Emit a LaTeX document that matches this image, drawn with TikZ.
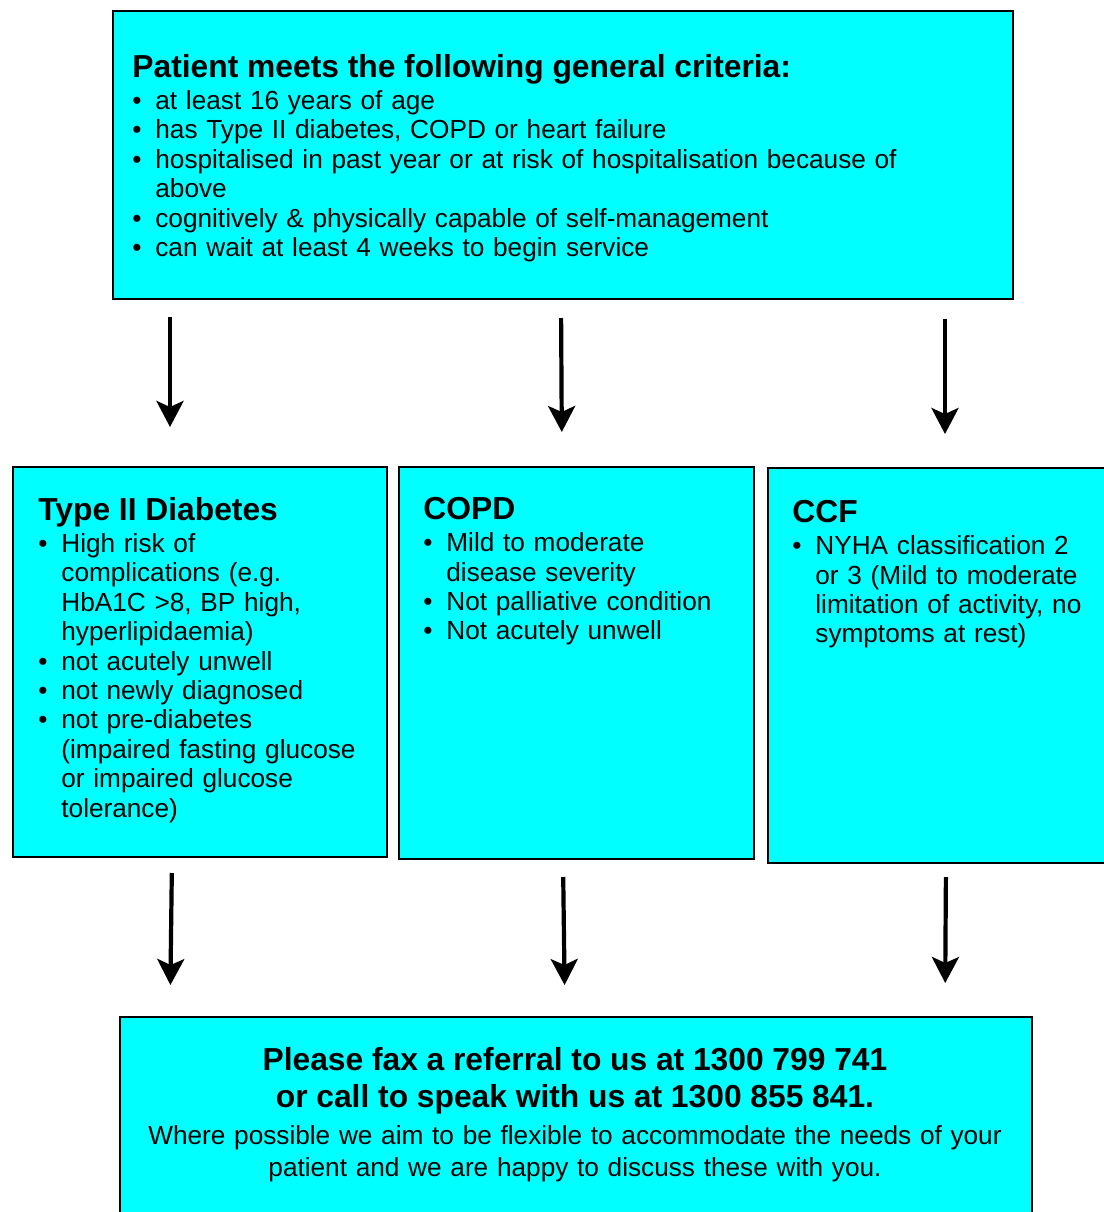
\documentclass[tikz,border=0pt]{standalone}
\usepackage{fontspec}
\setmainfont{Liberation Sans}
\usetikzlibrary{arrows.meta}
\definecolor{boxcyan}{RGB}{0,255,255}
\newcommand{\bodyfont}{\fontsize{13.1pt}{14.7pt}\selectfont}
\newcommand{\headfont}{\fontsize{15.9pt}{18.5pt}\selectfont\bfseries}
\newcommand{\itm}[1]{\par\hangindent=11.5pt\hangafter=1\noindent\makebox[11.5pt][l]{\textbullet}#1}
\newcommand{\head}[1]{{\headfont #1\par}\vspace{1.3pt}}
\tikzset{
  box/.style={draw=black, line width=1pt, fill=boxcyan, rectangle, inner sep=0pt, anchor=north west},
  txt/.style={anchor=north west, inner sep=0pt, text width=#1, align=left, font=\bodyfont},
  flow/.style={-{Stealth[length=13pt, width=13.5pt, inset=3pt]}, line width=2.1pt}
}
\begin{document}
\begin{tikzpicture}[x=0.5pt, y=-0.5pt]
	\useasboundingbox (0,0) rectangle (1104,1212);
	\clip (0,0) rectangle (1104,1212);
	\node[box, minimum width=450pt, minimum height=144pt] (gen) at (112,10) {};
	\node[box, minimum width=187pt, minimum height=195pt] (diab) at (12,466) {};
	\node[box, minimum width=177.5pt, minimum height=196pt] (copd) at (398,466) {};
	\node[box, minimum width=171.5pt, minimum height=197.5pt] (ccf) at (767,467) {};
	\node[box, minimum width=456pt, minimum height=100pt] (ref) at (119,1016) {};
	\node[txt=430pt] (gentxt) at (132,54) {\head{Patient meets the following general criteria:}%
		\itm{at least 16 years of age}
		\itm{has Type II diabetes, COPD or heart failure}
		\itm{hospitalised in past year or at risk of hospitalisation because of\newline above}
		\itm{cognitively \& physically capable of self-management}
		\itm{can wait at least 4 weeks to begin service}\par};
	\node[txt=175pt] (diabtxt) at (38,497) {\head{Type II Diabetes}%
		\itm{High risk of\newline complications (e.g.\newline HbA1C >8, BP high,\newline hyperlipidaemia)}
		\itm{not acutely unwell}
		\itm{not newly diagnosed}
		\itm{not pre-diabetes\newline (impaired fasting glucose\newline or impaired glucose\newline tolerance)}\par};
	\node[txt=160pt] (copdtxt) at (423,497) {\head{COPD}%
		\itm{Mild to moderate\newline disease severity}
		\itm{Not palliative condition}
		\itm{Not acutely unwell}\par};
	\node[txt=155pt] (ccftxt) at (792,500) {\head{CCF}%
		\itm{NYHA classification 2\newline or 3 (Mild to moderate\newline limitation of activity, no\newline symptoms at rest)}\par};
	\node[txt=456pt, align=center, anchor=north] (reftxt) at (575,1047) {{\headfont Please fax a referral to us at 1300 799 741\\ or call to speak with us at 1300 855 841.\par}\vspace{2.5pt}%
		{\fontsize{13.1pt}{16pt}\selectfont Where possible we aim to be flexible to accommodate the needs of your\\ patient and we are happy to discuss these with you.\par}};
	\draw[flow, shorten <=8.5pt, shorten >=19.5pt] (gen.south -| 170,0) -- (diab.north -| 170,0);
	\draw[flow, shorten <=9pt, shorten >=17pt] (gen.south -| 561,0) -- (copd.north -| 562,0);
	\draw[flow, shorten <=9.5pt, shorten >=16.5pt] (gen.south -| 945,0) -- (ccf.north -| 945,0);
	\draw[flow, shorten <=7.5pt, shorten >=15.5pt] (diab.south -| 172,0) -- (ref.north -| 170,0);
	\draw[flow, shorten <=8.5pt, shorten >=15.5pt] (copd.south -| 563,0) -- (ref.north -| 565,0);
	\draw[flow, shorten <=6.5pt, shorten >=16.5pt] (ccf.south -| 946,0) -- (ref.north -| 945,0);
\end{tikzpicture}
\end{document}
